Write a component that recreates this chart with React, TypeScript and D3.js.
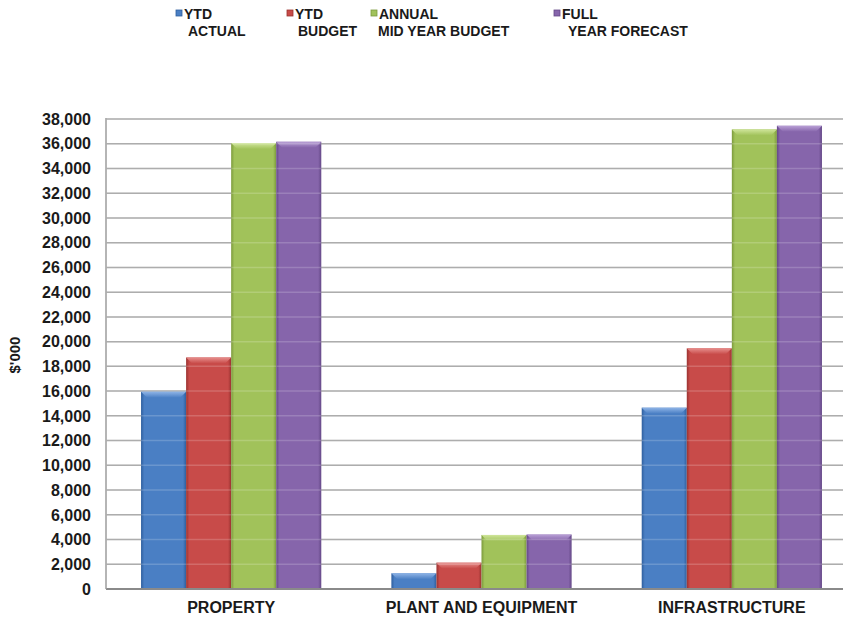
import React from 'react';
import * as d3 from 'd3';

const categories = ['PROPERTY', 'PLANT AND EQUIPMENT', 'INFRASTRUCTURE'];
const seriesNames = ['YTD ACTUAL', 'YTD BUDGET', 'ANNUAL MID YEAR BUDGET', 'FULL YEAR FORECAST'];
const legendLine1 = ['YTD', 'YTD', 'ANNUAL', 'FULL'];
const legendLine2 = ['ACTUAL', 'BUDGET', 'MID YEAR BUDGET', 'YEAR FORECAST'];
const ytdActual = [15950, 1270, 14660];
const ytdBudget = [18720, 2130, 19460];
const annualMidYearBudget = [36050, 4370, 37160];
const fullYearForecast = [36160, 4400, 37450];
const yTicks = d3.range(0, 38001, 2000);

const seriesValues = [ytdActual, ytdBudget, annualMidYearBudget, fullYearForecast];
const colors = ['#4a7fc4', '#c84b49', '#a1c25a', '#8665ab'];
const darkColors = ['#2f5f9e', '#9a3230', '#7c9a3c', '#644887'];
const lightColors = ['#8fb4e6', '#e78f8d', '#cfe59a', '#b9a0d6'];

const W = 843, H = 619;
const left = 106, right = 857, top = 119, bottom = 589;

export default function App() {
  const x0 = d3.scaleBand<string>().domain(categories).range([left, right]).paddingInner(0.28).paddingOuter(0.14);
  const x1 = d3.scaleBand<number>().domain(d3.range(seriesNames.length)).range([0, x0.bandwidth()]).padding(0);
  const y = d3.scaleLinear().domain([0, 38000]).range([bottom, top]);
  const fmt = d3.format(',');
  const font = 'Liberation Sans, Arial, sans-serif';
  const legendX = [176, 287, 371, 554];
  const legendIndent = [12, 11, 7, 14];

  return (
    <svg width={W} height={H} style={{ position: 'absolute', left: 0, top: 0, background: '#fff' }} fontFamily={font}>
      <defs>
        {colors.map((c, i) => (
          <linearGradient key={i} id={`g${i}`} x1="0" x2="1" y1="0" y2="0">
            <stop offset="0" stopColor={darkColors[i]} />
            <stop offset="0.07" stopColor={c} />
            <stop offset="0.5" stopColor={c} />
            <stop offset="0.93" stopColor={c} />
            <stop offset="1" stopColor={darkColors[i]} />
          </linearGradient>
        ))}
        {colors.map((c, i) => (
          <linearGradient key={'t' + i} id={`t${i}`} x1="0" x2="0" y1="0" y2="1">
            <stop offset="0" stopColor={lightColors[i]} />
            <stop offset="1" stopColor={c} />
          </linearGradient>
        ))}
      </defs>
      {/* legend */}
      {seriesNames.map((s, i) => (
        <g key={s}>
          <rect x={legendX[i]} y={10} width={6} height={6} fill={colors[i]} stroke={darkColors[i]} strokeWidth={0.8} />
          <text x={legendX[i] + 8} y={18.5} fontSize={14} fontWeight="bold" fill="#1a1a1a">{legendLine1[i]}</text>
          <text x={legendX[i] + legendIndent[i]} y={35.5} fontSize={14} fontWeight="bold" fill="#1a1a1a">{legendLine2[i]}</text>
        </g>
      ))}
      {/* gridlines */}
      {yTicks.map(t => (
        <line key={t} x1={left} x2={W} y1={y(t)} y2={y(t)} stroke={t === 0 ? '#8a8a8a' : '#9c9c9c'} strokeWidth={t === 0 ? 2 : 1.5} />
      ))}
      <line x1={left} x2={left} y1={top - 1} y2={bottom} stroke="#9c9c9c" strokeWidth={1.5} />
      {/* bars */}
      {categories.map((cat, ci) => (
        <g key={cat} transform={`translate(${x0(cat)},0)`}>
          {seriesValues.map((vals, si) => {
            const bx = x1(si)!;
            const bw = x1.bandwidth();
            const by = y(vals[ci]);
            const bh = bottom - by;
            const bev = Math.min(6, bh / 2);
            return (
              <g key={si}>
                <rect x={bx} y={by} width={bw} height={bh - 1} fill={`url(#g${si})`} />
                <polygon points={`${bx},${by} ${bx + bw},${by} ${bx + bw - bev},${by + bev} ${bx + bev},${by + bev}`} fill={`url(#t${si})`} />
              </g>
            );
          })}
        </g>
      ))}
      {/* faint gridlines through bars */}
      {yTicks.filter(t => t > 0).map(t => (
        <line key={'o' + t} x1={left} x2={W} y1={y(t)} y2={y(t)} stroke="#ffffff" strokeOpacity={0.18} strokeWidth={1.5} />
      ))}
      {/* y tick labels */}
      {yTicks.map(t => (
        <text key={'l' + t} x={91} y={y(t)} dy="0.36em" textAnchor="end" fontSize={16} fontWeight="bold" fill="#1a1a1a">{fmt(t)}</text>
      ))}
      <text transform={`translate(20,355) rotate(-90)`} textAnchor="middle" fontSize={15} fontWeight="bold" fill="#1a1a1a">$'000</text>
      {/* category labels */}
      {categories.map(cat => (
        <text key={'c' + cat} x={x0(cat)! + x0.bandwidth() / 2} y={613} textAnchor="middle" fontSize={16} fontWeight="bold" fill="#1a1a1a">{cat}</text>
      ))}
    </svg>
  );
}
